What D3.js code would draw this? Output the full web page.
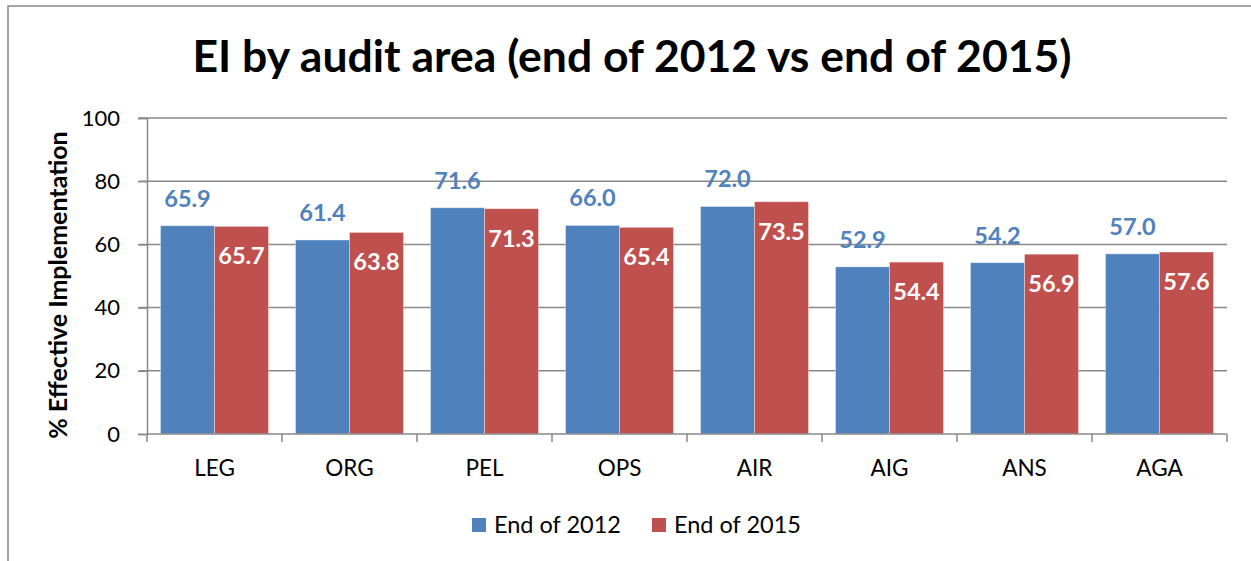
<!DOCTYPE html>
<html>
<head>
<meta charset="utf-8">
<script src="https://cdn.jsdelivr.net/npm/d3@7"></script>
<style>
  html, body { margin: 0; padding: 0; background: #fff; }
  svg { display: block; font-family: Lato, "Open Sans", sans-serif; }
</style>
</head>
<body>
<svg width="1251" height="561"></svg>
<script>
const categories = ['LEG', 'ORG', 'PEL', 'OPS', 'AIR', 'AIG', 'ANS', 'AGA'];
const seriesNames = ['End of 2012', 'End of 2015'];
const values2012 = [65.9, 61.4, 71.6, 66.0, 72.0, 52.9, 54.2, 57.0];
const values2015 = [65.7, 63.8, 71.3, 65.4, 73.5, 54.4, 56.9, 57.6];
const yTicks = [0, 20, 40, 60, 80, 100];
const colors = ['#4F81BD', '#C0504D'];

const svg = d3.select('svg');
const grey = '#898989';

// outer frame (only left and top edges show in the picture)
svg.append('path')
    .attr('d', 'M8,561V6H1251')
    .attr('fill', 'none')
    .attr('stroke', grey)
    .attr('stroke-width', 1.5);

svg.append('text')
    .attr('x', 632)
    .attr('y', 72)
    .attr('text-anchor', 'middle')
    .attr('font-size', 44.5)
    .attr('font-weight', 'bold')
    .attr('fill', '#000')
    .text('EI by audit area (end of 2012 vs end of 2015)');

const x0 = d3.scaleBand().domain(categories).range([147, 1227]);
const x1 = d3.scaleBand().domain(seriesNames).range([0, x0.bandwidth()]).paddingOuter(0.25);
const y = d3.scaleLinear().domain([0, 100]).range([434, 118]);

// gridlines
svg.append('g')
    .selectAll('line')
    .data(yTicks.filter(d => d > 0))
    .join('line')
    .attr('x1', 139)
    .attr('x2', 1227)
    .attr('y1', d => y(d))
    .attr('y2', d => y(d))
    .attr('stroke', grey)
    .attr('stroke-width', 1.5);

// y axis
const yAxis = svg.append('g')
    .attr('transform', 'translate(147,0)')
    .call(d3.axisLeft(y).tickValues(yTicks).tickSize(9).tickPadding(18));
yAxis.select('.domain').attr('stroke', grey).attr('stroke-width', 1.5);
yAxis.selectAll('.tick line').attr('stroke', grey).attr('stroke-width', 1.5);
yAxis.selectAll('.tick text')
    .attr('font-size', 22)
    .attr('font-family', 'Lato, sans-serif')
    .attr('fill', '#000');

// bars
const rows = categories.map((c, i) => ({ cat: c, vals: [values2012[i], values2015[i]] }));
const groups = svg.append('g')
    .selectAll('g')
    .data(rows)
    .join('g')
    .attr('transform', d => `translate(${x0(d.cat)},0)`);

groups.selectAll('rect')
    .data(d => d.vals.map((v, k) => ({ name: seriesNames[k], v, k })))
    .join('rect')
    .attr('x', d => x1(d.name))
    .attr('width', x1.bandwidth())
    .attr('y', d => y(d.v))
    .attr('height', d => y(0) - y(d.v))
    .attr('fill', d => colors[d.k])
    .attr('stroke', 'rgba(255,255,255,0.45)')
    .attr('stroke-width', 0.8);

groups.selectAll('text.lbl')
    .data(d => d.vals.map((v, k) => ({ name: seriesNames[k], v, k })))
    .join('text')
    .attr('class', 'lbl')
    .attr('x', d => x1(d.name) + x1.bandwidth() / 2)
    .attr('y', d => d.k === 0 ? y(d.v) - 19 : y(d.v) + 38)
    .attr('text-anchor', 'middle')
    .attr('font-size', 23.5)
    .attr('font-weight', 'bold')
    .attr('fill', d => d.k === 0 ? colors[0] : '#fff')
    .text(d => d3.format('.1f')(d.v));

// x axis
const xAxis = svg.append('g')
    .attr('transform', `translate(0,${y(0)})`)
    .call(d3.axisBottom(x0).tickSize(0).tickPadding(26));
xAxis.select('.domain').remove();
svg.append('line')
    .attr('x1', 147).attr('x2', 1227)
    .attr('y1', y(0)).attr('y2', y(0))
    .attr('stroke', grey).attr('stroke-width', 1.5);
svg.append('g')
    .selectAll('line')
    .data(categories.map(c => x0(c)).concat([x0.range()[1]]))
    .join('line')
    .attr('x1', d => d).attr('x2', d => d)
    .attr('y1', y(0)).attr('y2', y(0) + 8)
    .attr('stroke', grey).attr('stroke-width', 1.5);
xAxis.selectAll('.tick text')
    .attr('font-size', 22.5)
    .attr('font-family', 'Lato, sans-serif')
    .attr('fill', '#000');

// y axis title
svg.append('text')
    .attr('transform', 'translate(67,285) rotate(-90)')
    .attr('text-anchor', 'middle')
    .attr('font-size', 25)
    .attr('font-weight', 'bold')
    .attr('fill', '#000')
    .text('% Effective Implementation');

// legend
const legendX = [472, 652];
const legend = svg.append('g')
    .selectAll('g')
    .data(seriesNames)
    .join('g')
    .attr('transform', (d, i) => `translate(${legendX[i]},518)`);
legend.append('rect')
    .attr('width', 14).attr('height', 14)
    .attr('fill', (d, i) => colors[i]);
legend.append('text')
    .attr('x', 22)
    .attr('y', 14.5)
    .attr('font-size', 23.5)
    .attr('fill', '#000')
    .text(d => d);
</script>
</body>
</html>
